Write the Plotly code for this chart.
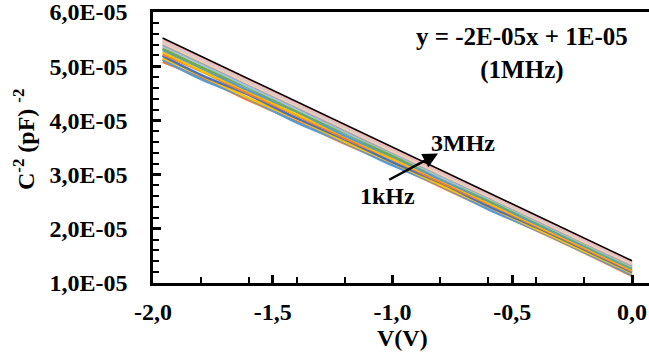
import plotly.graph_objects as go

# Bias voltage (V)
voltage = [-1.96, -1.8, -1.6, -1.4, -1.2, -1.0, -0.8, -0.6, -0.4, -0.2, 0.0]

# C^-2 values, in units of 1E-05 (pF)^-2, one list per frequency (low -> high)
c2_f01 = [5.08, 4.79, 4.37, 3.98, 3.57, 3.19, 2.78, 2.37, 1.97, 1.56, 1.13]
c2_f02 = [5.12, 4.76, 4.40, 3.96, 3.59, 3.17, 2.80, 2.36, 1.98, 1.57, 1.15]
c2_f03 = [5.15, 4.83, 4.41, 4.03, 3.61, 3.22, 2.81, 2.41, 2.00, 1.59, 1.18]
c2_f04 = [5.19, 4.84, 4.47, 4.04, 3.65, 3.23, 2.85, 2.42, 2.03, 1.62, 1.20]
c2_f05 = [5.22, 4.91, 4.49, 4.09, 3.67, 3.28, 2.86, 2.46, 2.05, 1.64, 1.22]
c2_f06 = [5.26, 4.92, 4.53, 4.11, 3.71, 3.29, 2.90, 2.48, 2.07, 1.66, 1.24]
c2_f07 = [5.30, 4.97, 4.55, 4.16, 3.72, 3.33, 2.91, 2.51, 2.09, 1.68, 1.26]
c2_f08 = [5.33, 4.99, 4.60, 4.17, 3.77, 3.35, 2.95, 2.53, 2.12, 1.70, 1.28]
c2_f09 = [5.37, 5.04, 4.62, 4.21, 3.79, 3.39, 2.96, 2.56, 2.14, 1.72, 1.30]
c2_f10 = [5.40, 5.07, 4.66, 4.24, 3.82, 3.41, 2.99, 2.58, 2.16, 1.74, 1.32]
c2_f11 = [5.43, 5.10, 4.68, 4.27, 3.85, 3.43, 3.01, 2.60, 2.18, 1.76, 1.35]
c2_f12 = [5.46, 5.13, 4.71, 4.29, 3.87, 3.46, 3.04, 2.62, 2.20, 1.79, 1.37]
c2_f13 = [5.49, 5.16, 4.74, 4.32, 3.90, 3.48, 3.06, 2.65, 2.23, 1.81, 1.39]

series = [c2_f01, c2_f02, c2_f03, c2_f04, c2_f05, c2_f06, c2_f07,
          c2_f08, c2_f09, c2_f10, c2_f11, c2_f12, c2_f13]
colors = ["#ED7D31", "#5B9BD5", "#FFC000", "#4472C4", "#ED7D31", "#FFC000",
          "#5B9BD5", "#70AD47", "#9DC3E6", "#A5A5A5", "#F8CBAD", "#D0CECE",
          "#F4B6B6"]

# Linear fit of the 1 MHz curve
fit_v = [-1.96, 0.0]
fit_c2 = [5.52, 1.41]

y_ticks = [1, 2, 3, 4, 5, 6]
y_labels = ["1,0E-05", "2,0E-05", "3,0E-05", "4,0E-05", "5,0E-05", "6,0E-05"]
x_ticks = [-2.0, -1.5, -1.0, -0.5, 0.0]
x_labels = ["-2,0", "-1,5", "-1,0", "-0,5", "0,0"]

FONT = "Liberation Serif"
FS = 24

fig = go.Figure()
for vals, col in zip(series, colors):
    fig.add_trace(go.Scatter(x=voltage, y=vals, mode="lines",
                             line=dict(color=col, width=2.5, shape="spline", smoothing=1.0),
                             showlegend=False, hoverinfo="skip"))
fig.add_trace(go.Scatter(x=fit_v, y=fit_c2, mode="lines",
                         line=dict(color="black", width=1.5), showlegend=False))

fig.update_layout(
    width=649, height=353,
    margin=dict(l=153, r=0, t=12, b=70),
    plot_bgcolor="white", paper_bgcolor="white",
    font=dict(family=FONT, size=FS, color="black"),
    xaxis=dict(range=[-2.0, 0.071], tickvals=x_ticks,
               ticktext=["<b>%s</b>" % t for t in x_labels],
               ticks="inside", ticklen=8, tickwidth=2.5, tickcolor="black",
               showline=True, linecolor="black", linewidth=2.5, mirror=True,
               showgrid=False, zeroline=False, ticklabelstandoff=5,
               ticklabeloverflow="allow",
               minor=dict(dtick=0.2, tick0=0, ticks="inside", ticklen=6,
                          tickwidth=2, tickcolor="black", showgrid=False)),
    yaxis=dict(range=[1, 6], tickvals=y_ticks,
               ticktext=["<b>%s</b>" % t for t in y_labels],
               ticks="inside", ticklen=8, tickwidth=2.5, tickcolor="black",
               showline=True, linecolor="black", linewidth=2.5, mirror=False,
               showgrid=False, zeroline=False, ticklabelstandoff=18,
               ticklabeloverflow="allow",
               minor=dict(dtick=0.2, ticks="inside", ticklen=6,
                          tickwidth=2, tickcolor="black", showgrid=False)),
)

fig.add_annotation(xref="paper", yref="paper", x=(402 - 153) / 496, y=-(338 - 283) / 271,
                   text="<b>V(V)</b>", showarrow=False, font=dict(size=FS),
                   xanchor="center", yanchor="middle")
fig.add_annotation(xref="paper", yref="paper", x=-(153 - 24) / 496, y=(283 - 140) / 271,
                   text="<b>C<sup>-2</sup> (pF) <sup>-2</sup></b>", showarrow=False,
                   font=dict(size=FS), textangle=-90, xanchor="center", yanchor="middle")
fig.add_annotation(x=-0.46, y=5.23, text="<b>y = -2E-05x + 1E-05<br>(1MHz)</b>",
                   showarrow=False, font=dict(size=25), align="center")
fig.add_annotation(x=-0.81, y=3.39, ax=-1.02, ay=2.89, axref="x", ayref="y",
                   text="", showarrow=True, arrowhead=2, arrowsize=1.2,
                   arrowwidth=2.5, arrowcolor="black")
fig.add_annotation(x=-0.706, y=3.59, text="<b>3MHz</b>", showarrow=False,
                   font=dict(size=FS))
fig.add_annotation(x=-1.02, y=2.61, text="<b>1kHz</b>", showarrow=False,
                   font=dict(size=FS))

fig.write_html("out.html", config={"displayModeBar": False},
               post_script="document.body.style.margin='0';")
